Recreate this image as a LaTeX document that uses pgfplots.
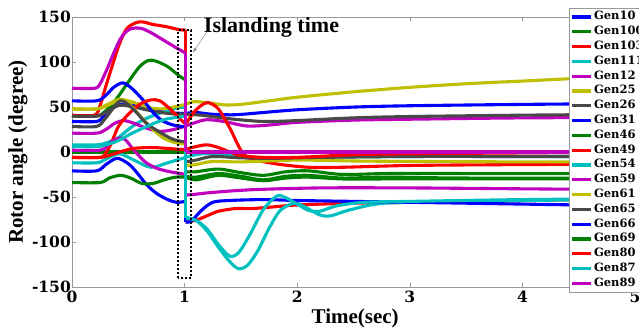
\documentclass[border=0pt]{standalone}
\usepackage{fontspec}
\setmainfont{Liberation Serif}
\newfontfamily\dejab{DejaVu Serif}
\usepackage{pgfplots}
\pgfplotsset{compat=1.18}
\usetikzlibrary{arrows.meta}
\definecolor{colB}{RGB}{0,0,255}
\definecolor{colG}{RGB}{0,128,0}
\definecolor{colR}{RGB}{255,0,0}
\definecolor{colC}{RGB}{0,191,191}
\definecolor{colM}{RGB}{191,0,191}
\definecolor{colO}{RGB}{191,191,0}
\definecolor{colK}{RGB}{72,72,72}
\newcommand{\gen}[4]{%
  \addplot[color=#1] coordinates {#2};
  \addplot[color=#1,sharp plot,forget plot] coordinates {#3};
  \addplot[color=#1,forget plot] coordinates {#4};
}
\begin{document}
\begin{tikzpicture}
\begin{axis}[
  name=ax,
  scale only axis, width=563pt, height=269.4pt,
  xmin=0, xmax=5, ymin=-150, ymax=150,
  xtick={0,1,2,3,4,5}, ytick={-150,-100,-50,0,50,100,150},
  axis line style={draw=black!40}, tick style={black!40, thin},
  tick align=inside, major tick length=4pt,
  /pgf/number format/assume math mode=true,
  ticklabel style={font=\dejab\bfseries\fontsize{15.5}{16}\selectfont},
  yticklabel style={inner xsep=1pt},
  xticklabel style={inner ysep=4.5pt},
  xlabel={Time(sec)}, ylabel={Rotor angle (degree)},
  label style={font=\bfseries\fontsize{21}{22}\selectfont},
  xlabel style={at={(axis description cs:0.503,-0.135)}, anchor=base},
  ylabel style={at={(axis description cs:-0.096,0.5)}, anchor=center},
  every axis plot/.append style={line width=3.1pt, smooth, tension=0.5, line join=round},
  legend style={at={(axis description cs:0.8833,1.033)}, anchor=north west,
    draw=black!40, fill=white, inner sep=1pt,
    font=\dejab\bfseries\fontsize{11.5}{12}\selectfont,
    nodes={inner xsep=1.5pt, inner ysep=2.5pt, text height=7.8pt, text depth=2pt}},
  legend cell align=left,
  legend image code/.code={\draw[#1, line width=3.1pt, sharp plot] (0pt,0pt) -- (19pt,0pt);},
]
% Gen10
\gen{colB}{(0,34)(0.22,34)(0.28,40)(0.34,49)(0.45,53)(0.58,51)(0.75,46)(0.87,43.5)(1.01,43)}
 {(1.01,43)(1.01,43)}
 {(1.01,43)(1.1,44)(1.25,42)(1.45,41.5)(1.7,44)(2.0,47)(2.5,50)(3,51.5)(4,53)(5,54)}
% Gen100
\gen{colG}{(0,40)(0.22,40)(0.3,46)(0.4,60)(0.5,78)(0.6,95)(0.68,102)(0.75,101)(0.85,95)(0.95,85)(1.01,80)}
 {(1.01,80)(1.01,-22)}
 {(1.01,-22)(1.1,-22)(1.3,-19)(1.5,-23)(1.7,-26)(1.9,-22)(2.1,-21)(2.4,-25)(2.8,-24)(3.5,-24)(5,-24)}
% Gen103
\gen{colR}{(0,41)(0.2,41)(0.25,52)(0.3,73)(0.36,97)(0.42,120)(0.49,138)(0.6,145)(0.72,142)(0.84,139.5)(0.96,136)(1.01,136)}
 {(1.01,136)(1.01,-78)}
 {(1.01,-78)(1.1,-76)(1.2,-71)(1.3,-66)(1.45,-63)(1.6,-63)(1.8,-61)(2.0,-59)(2.5,-57)(3,-56)(4,-54)(5,-52)}
% Gen111
\gen{colC}{(0,8)(0.22,8)(0.3,10)(0.4,15)(0.52,27)(0.62,35)(0.75,42)(0.85,46)(0.93,49)(1.01,50)}
 {(1.01,50)(1.01,-73)}
 {(1.01,-73)(1.1,-76)(1.2,-88)(1.3,-106)(1.4,-122)(1.48,-130)(1.56,-126)(1.65,-110)(1.75,-85)(1.85,-65)(1.97,-57)(2.05,-60)(2.2,-70)(2.3,-71)(2.45,-65)(2.7,-58)(3,-56)(4,-54)(5,-53)}
% Gen12
\gen{colM}{(0,21)(0.22,21)(0.3,25)(0.38,32)(0.46,35)(0.55,32)(0.65,27)(0.78,23)(0.9,25)(1.01,29)}
 {(1.01,29)(1.01,29)}
 {(1.01,29)(1.1,33)(1.2,36)(1.35,34)(1.55,29)(1.75,30)(2.0,33)(2.5,35.5)(3,36.5)(4,38)(5,38.5)}
% Gen25
\gen{colO}{(0,48)(0.22,48)(0.3,51)(0.42,58)(0.5,57)(0.6,53)(0.7,49)(0.8,48)(0.9,50)(1.01,53)}
 {(1.01,53)(1.01,53)}
 {(1.01,53)(1.08,56)(1.2,55)(1.35,52.5)(1.5,53)(1.75,57)(2.0,61)(2.5,67)(3,72)(3.5,76)(4,79)(4.5,82)(5,84)}
% Gen26
\gen{colK}{(0,40)(0.22,40)(0.3,44)(0.42,52)(0.55,50)(0.7,46)(0.85,43)(1.01,42)}
 {(1.01,42)(1.01,42)}
 {(1.01,42)(1.15,41)(1.4,37)(1.7,34)(2.0,35)(2.5,38)(3,39.5)(4,41)(5,42)}
% Gen31
\gen{colB}{(0,57)(0.22,57)(0.3,63)(0.37,72)(0.45,77)(0.53,71)(0.63,58)(0.72,44)(0.8,35)(0.9,30)(1.01,28)}
 {(1.01,28)(1.01,0)}
 {(1.01,0)(5,0)}
% Gen46
\gen{colG}{(0,0)(1.01,0)}
 {(1.01,0)(1.01,-27)}
 {(1.01,-27)(1.1,-28)(1.3,-24)(1.5,-27)(1.7,-31)(1.9,-27)(2.1,-26)(2.4,-29)(2.8,-28)(3.5,-29)(5,-29)}
% Gen49
\gen{colR}{(0,-6)(0.25,-6)(0.3,-1)(0.35,10)(0.41,28)(0.5,42)(0.6,53)(0.7,58)(0.78,57)(0.87,48)(0.95,38)(1.01,31)}
 {(1.01,31)(1.01,31)}
 {(1.01,31)(1.08,44)(1.15,52)(1.21,55)(1.3,48)(1.4,27)(1.5,2)(1.58,-7)(1.8,-13)(2.1,-17)(2.4,-17)(3,-15)(4,-14)(5,-13.5)}
% Gen54
\gen{colC}{(0,-12)(0.22,-12)(0.3,-8)(0.42,-2)(0.55,-9)(0.7,-17)(0.85,-12)(1.01,-6)}
 {(1.01,-6)(1.01,-6)}
 {(1.01,-6)(1.1,-3)(1.25,-1.5)(1.5,-5)(1.8,-7)(2.2,-6)(3,-5)(4,-5)(5,-5)}
% Gen59
\gen{colM}{(0,2)(0.25,2)(0.32,8)(0.4,15)(0.47,14)(0.55,2)(0.65,-11)(0.75,-18)(0.87,-22)(1.01,-25)}
 {(1.01,-25)(1.01,-48)}
 {(1.01,-48)(1.1,-47)(1.25,-45)(1.6,-42)(2.2,-40)(3,-40)(4,-41)(5,-42)}
% Gen61
\gen{colO}{(0,48)(0.22,48)(0.3,52)(0.43,59)(0.52,52)(0.62,38)(0.72,25)(0.82,15)(0.93,10)(1.01,9)}
 {(1.01,9)(1.01,-15)}
 {(1.01,-15)(1.1,-14)(1.25,-10.5)(1.5,-11)(2.0,-9)(2.5,-10)(3,-10.5)(4,-11)(5,-11)}
% Gen65
\gen{colK}{(0,28.5)(0.22,28.5)(0.3,38)(0.43,57)(0.55,47)(0.66,32)(0.78,22)(0.9,14)(1.01,11)}
 {(1.01,11)(1.01,-11)}
 {(1.01,-11)(1.1,-9)(1.25,-5)(1.5,-6.5)(1.8,-7)(2.2,-6)(3,-5)(4,-5)(5,-5)}
% Gen66
\gen{colB}{(0,-21)(0.22,-21)(0.3,-14)(0.4,-7)(0.5,-13)(0.57,-22)(0.66,-36)(0.75,-46)(0.85,-53)(0.93,-56)(1.01,-55)}
 {(1.01,-55)(1.01,-78)}
 {(1.01,-78)(1.06,-77)(1.15,-65)(1.25,-56)(1.4,-54)(1.7,-53)(2.0,-54)(2.5,-55)(3,-56)(4,-58)(5,-60)}
% Gen69
\gen{colG}{(0,-34)(0.25,-34)(0.33,-29)(0.43,-26)(0.52,-29)(0.62,-35)(0.72,-35)(0.82,-31)(0.92,-28)(1.01,-28)}
 {(1.01,-28)(1.01,-28)}
 {(1.01,-28)(1.1,-31)(1.3,-26)(1.5,-29)(1.7,-32)(1.9,-29)(2.1,-28)(2.4,-30)(2.8,-30)(3.5,-30)(5,-30)}
% Gen80
\gen{colR}{(0,-6)(0.25,-6)(0.35,-3)(0.45,1)(0.55,4)(0.7,5)(0.85,4)(0.95,3)(1.01,3)}
 {(1.01,3)(1.01,3)}
 {(1.01,3)(1.1,6)(1.2,8)(1.3,5)(1.4,0)(1.5,-4)(1.7,-6)(2.0,-6)(2.5,-3)(3,-2)(4,-1)(5,0)}
% Gen87
\gen{colC}{(0,6)(0.22,6)(0.3,8)(0.4,12)(0.52,20)(0.62,26)(0.75,33)(0.85,37)(0.96,39)(1.01,40)}
 {(1.01,40)(1.01,-74)}
 {(1.01,-74)(1.1,-76)(1.2,-86)(1.3,-103)(1.4,-116)(1.48,-112)(1.58,-92)(1.7,-64)(1.82,-49)(1.9,-51)(2.0,-58)(2.1,-65)(2.2,-66)(2.35,-60)(2.6,-56)(3,-55)(4,-53)(5,-52)}
% Gen89
\gen{colM}{(0,71)(0.2,71)(0.25,76)(0.31,92)(0.37,110)(0.43,126)(0.49,135)(0.55,138)(0.62,137.5)(0.7,133)(0.78,127)(0.9,118)(1.01,110)}
 {(1.01,110)(1.01,0)}
 {(1.01,0)(5,0)}
\legend{Gen10,Gen100,Gen103,Gen111,Gen12,Gen25,Gen26,Gen31,Gen46,Gen49,Gen54,Gen59,Gen61,Gen65,Gen66,Gen69,Gen80,Gen87,Gen89}
\draw[black, line width=2pt, dash pattern=on 2pt off 2pt] (axis cs:0.945,-140) rectangle (axis cs:1.06,135.5);
\node[anchor=base west, font=\bfseries\fontsize{22}{23}\selectfont, inner sep=0pt] at (axis cs:1.17,133) {Islanding time};
\draw[black!50, thin, -{Stealth[length=5pt,width=3pt]}] (axis cs:1.2,134) -- (axis cs:1.075,111);
\end{axis}
\pgfresetboundingbox
\path[use as bounding box] ([xshift=-72pt,yshift=-42.3pt]ax.south west) rectangle ([xshift=4pt,yshift=17.3pt]ax.north east);
\end{tikzpicture}
\end{document}
